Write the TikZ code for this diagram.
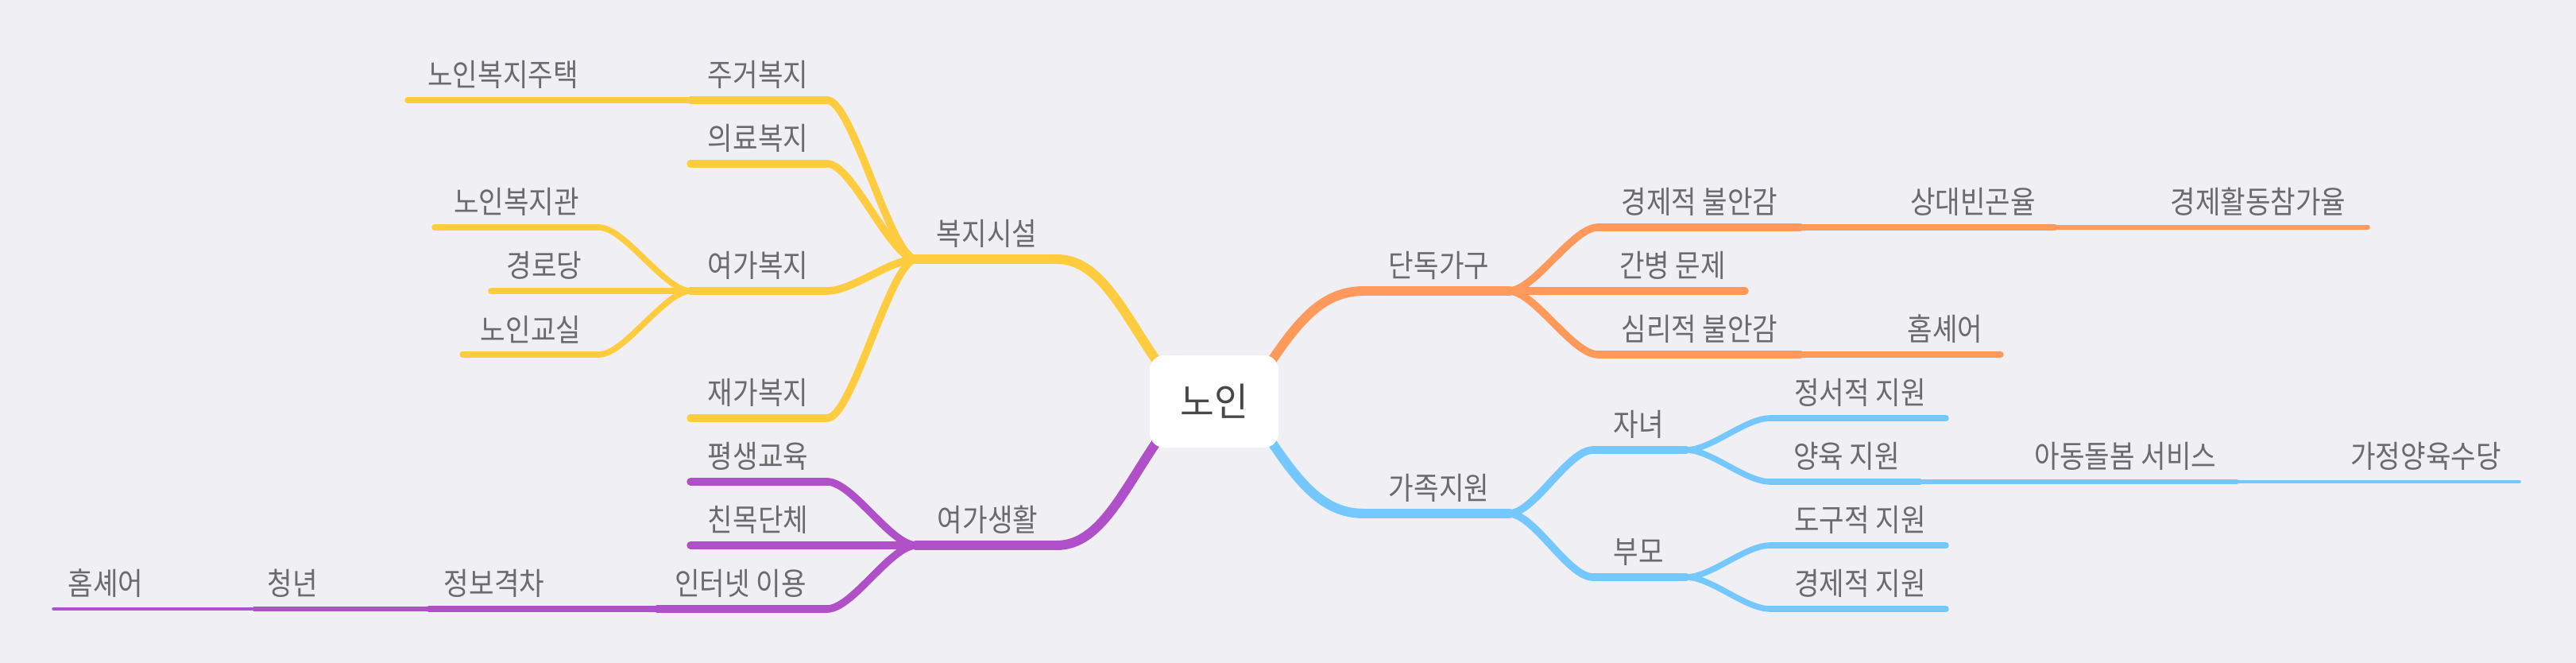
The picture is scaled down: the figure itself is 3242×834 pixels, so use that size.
\documentclass[tikz,border=0pt]{standalone}
\usepackage{fontspec}
\setmainfont{Noto Sans CJK KR}[FakeStretch=0.88]
\newfontfamily\rootfont{Noto Sans CJK KR}[FakeStretch=0.95]
\definecolor{bg}{HTML}{EFEFF4}
\definecolor{cy}{HTML}{FFCC3F}
\definecolor{co}{HTML}{FF9A5C}
\definecolor{cb}{HTML}{75C7FF}
\definecolor{cp}{HTML}{B050C8}
\definecolor{tx}{HTML}{6B6B6B}
\definecolor{rt}{HTML}{484848}
\newcommand\mm[7]{%
  \coordinate (#1-l) at (#2,#4);
  \coordinate (#1-r) at (#3,#4);
  \draw[#7] (#1-l) -- (#1-r);
  \node[lbl] (#1) at (#5,#4-14) {#6};}
\newcommand\lconn[3]{\draw[#1] (#2) .. controls +(-32,0) and +(32,0) .. (#3);}
\newcommand\rconn[3]{\draw[#1] (#2) .. controls +(32,0) and +(-32,0) .. (#3);}
\begin{document}
\begin{tikzpicture}[x=1pt,y=-1pt,line cap=round,line join=round,
  lbl/.style={anchor=south,inner sep=0pt,text=tx,font=\fontsize{39}{42}\selectfont},
  Y1/.style={draw=cy,line width=12pt}, Y2/.style={draw=cy,line width=9.5pt},
  Y3/.style={draw=cy,line width=7.5pt},
  P1/.style={draw=cp,line width=12pt}, P2/.style={draw=cp,line width=9.5pt},
  P3/.style={draw=cp,line width=7.5pt}, P4/.style={draw=cp,line width=5.5pt},
  P5/.style={draw=cp,line width=3.5pt},
  O1/.style={draw=co,line width=12pt}, O2/.style={draw=co,line width=9.5pt},
  O3/.style={draw=co,line width=7.5pt}, O4/.style={draw=co,line width=5.5pt},
  B1/.style={draw=cb,line width=12pt}, B2/.style={draw=cb,line width=9.5pt},
  B3/.style={draw=cb,line width=7.5pt}, B4/.style={draw=cb,line width=5.5pt},
  B5/.style={draw=cb,line width=3.5pt},
  rootbox/.style={fill=white,rounded corners=18pt,minimum width=162pt,minimum height=116pt,
    inner sep=0pt,text=rt,font=\rootfont\fontsize{49}{52}\selectfont}]
\fill[bg] (0,0) rectangle (3242,834);
\useasboundingbox (0,0) rectangle (3242,834);
% yellow
\mm{bj}{1153}{1330}{326}{1242}{복지시설}{Y1}
\mm{jg}{869}{1041}{126}{954}{주거복지}{Y2}
\mm{ur}{869}{1041}{206}{954}{의료복지}{Y2}
\mm{yg}{869}{1041}{366}{954}{여가복지}{Y2}
\mm{jgb}{869}{1041}{526}{954}{재가복지}{Y2}
\mm{nbj}{513}{869}{126}{633}{노인복지주택}{Y3}
\mm{nbg}{547}{754}{286}{650}{노인복지관}{Y3}
\mm{grd}{618}{869}{366}{685}{경로당}{Y3}
\mm{ngs}{582}{754}{446}{668}{노인교실}{Y3}
\lconn{Y2}{bj-l}{jg-r}
\lconn{Y2}{bj-l}{ur-r}
\lconn{Y2}{bj-l}{yg-r}
\lconn{Y2}{bj-l}{jgb-r}
\lconn{Y3}{yg-l}{nbg-r}
\lconn{Y3}{yg-l}{ngs-r}
% purple
\mm{ygs}{1153}{1330}{686}{1243}{여가생활}{P1}
\mm{psg}{869}{1041}{606}{954}{평생교육}{P2}
\mm{cmd}{869}{1153}{686}{954}{친목단체}{P2}
\mm{int}{827}{1041}{766}{932}{인터넷 이용}{P2}
\mm{jbg}{540}{827}{766}{622}{정보격차}{P3}
\mm{cn}{320}{540}{766}{368}{청년}{P4}
\mm{hs}{67}{320}{766}{133}{홈셰어}{P5}
\lconn{P2}{ygs-l}{psg-r}
\lconn{P2}{ygs-l}{int-r}
% orange
\mm{ddg}{1717}{1899}{366}{1811}{단독가구}{O1}
\mm{gjb}{2011}{2266}{286}{2139}{경제적 불안감}{O2}
\mm{sdb}{2266}{2586}{286}{2483}{상대빈곤율}{O3}
\mm{gjh}{2586}{2980}{286}{2842}{경제활동참가율}{O4}
\mm{gbm}{1899}{2196}{366}{2105}{간병 문제}{O2}
\mm{srb}{2011}{2266}{446}{2139}{심리적 불안감}{O2}
\mm{hso}{2266}{2518}{446}{2448}{홈셰어}{O3}
\rconn{O2}{ddg-r}{gjb-l}
\rconn{O2}{ddg-r}{srb-l}
% blue
\mm{gjw}{1717}{1899}{646}{1811}{가족지원}{B1}
\mm{jn}{2005}{2122}{566}{2062}{자녀}{B2}
\mm{bm}{2005}{2122}{726}{2062}{부모}{B2}
\mm{jsj}{2228}{2449}{526}{2341}{정서적 지원}{B3}
\mm{yyj}{2228}{2416}{606}{2324}{양육 지원}{B3}
\mm{adb}{2416}{2815}{606}{2675}{아동돌봄 서비스}{B4}
\mm{gjy}{2815}{3171}{606}{3053}{가정양육수당}{B5}
\mm{dgj}{2228}{2449}{686}{2341}{도구적 지원}{B3}
\mm{gjj}{2228}{2449}{766}{2341}{경제적 지원}{B3}
\rconn{B2}{gjw-r}{jn-l}
\rconn{B2}{gjw-r}{bm-l}
\rconn{B3}{jn-r}{jsj-l}
\rconn{B3}{jn-r}{yyj-l}
\rconn{B3}{bm-r}{dgj-l}
\rconn{B3}{bm-r}{gjj-l}
% root
\coordinate (rnw) at (1459,459);
\coordinate (rsw) at (1459,551);
\coordinate (rne) at (1597,459);
\coordinate (rse) at (1597,551);
\draw[Y1] (bj-r) .. controls +(55,0) and +(-45,-65) .. (rnw);
\draw[P1] (ygs-r) .. controls +(55,0) and +(-45,65) .. (rsw);
\draw[O1] (rne) .. controls +(40,-60) and +(-50,0) .. (ddg-l);
\draw[B1] (rse) .. controls +(40,60) and +(-50,0) .. (gjw-l);
\node[rootbox] (root) at (1528,505) {노인};
\end{tikzpicture}
\end{document}
